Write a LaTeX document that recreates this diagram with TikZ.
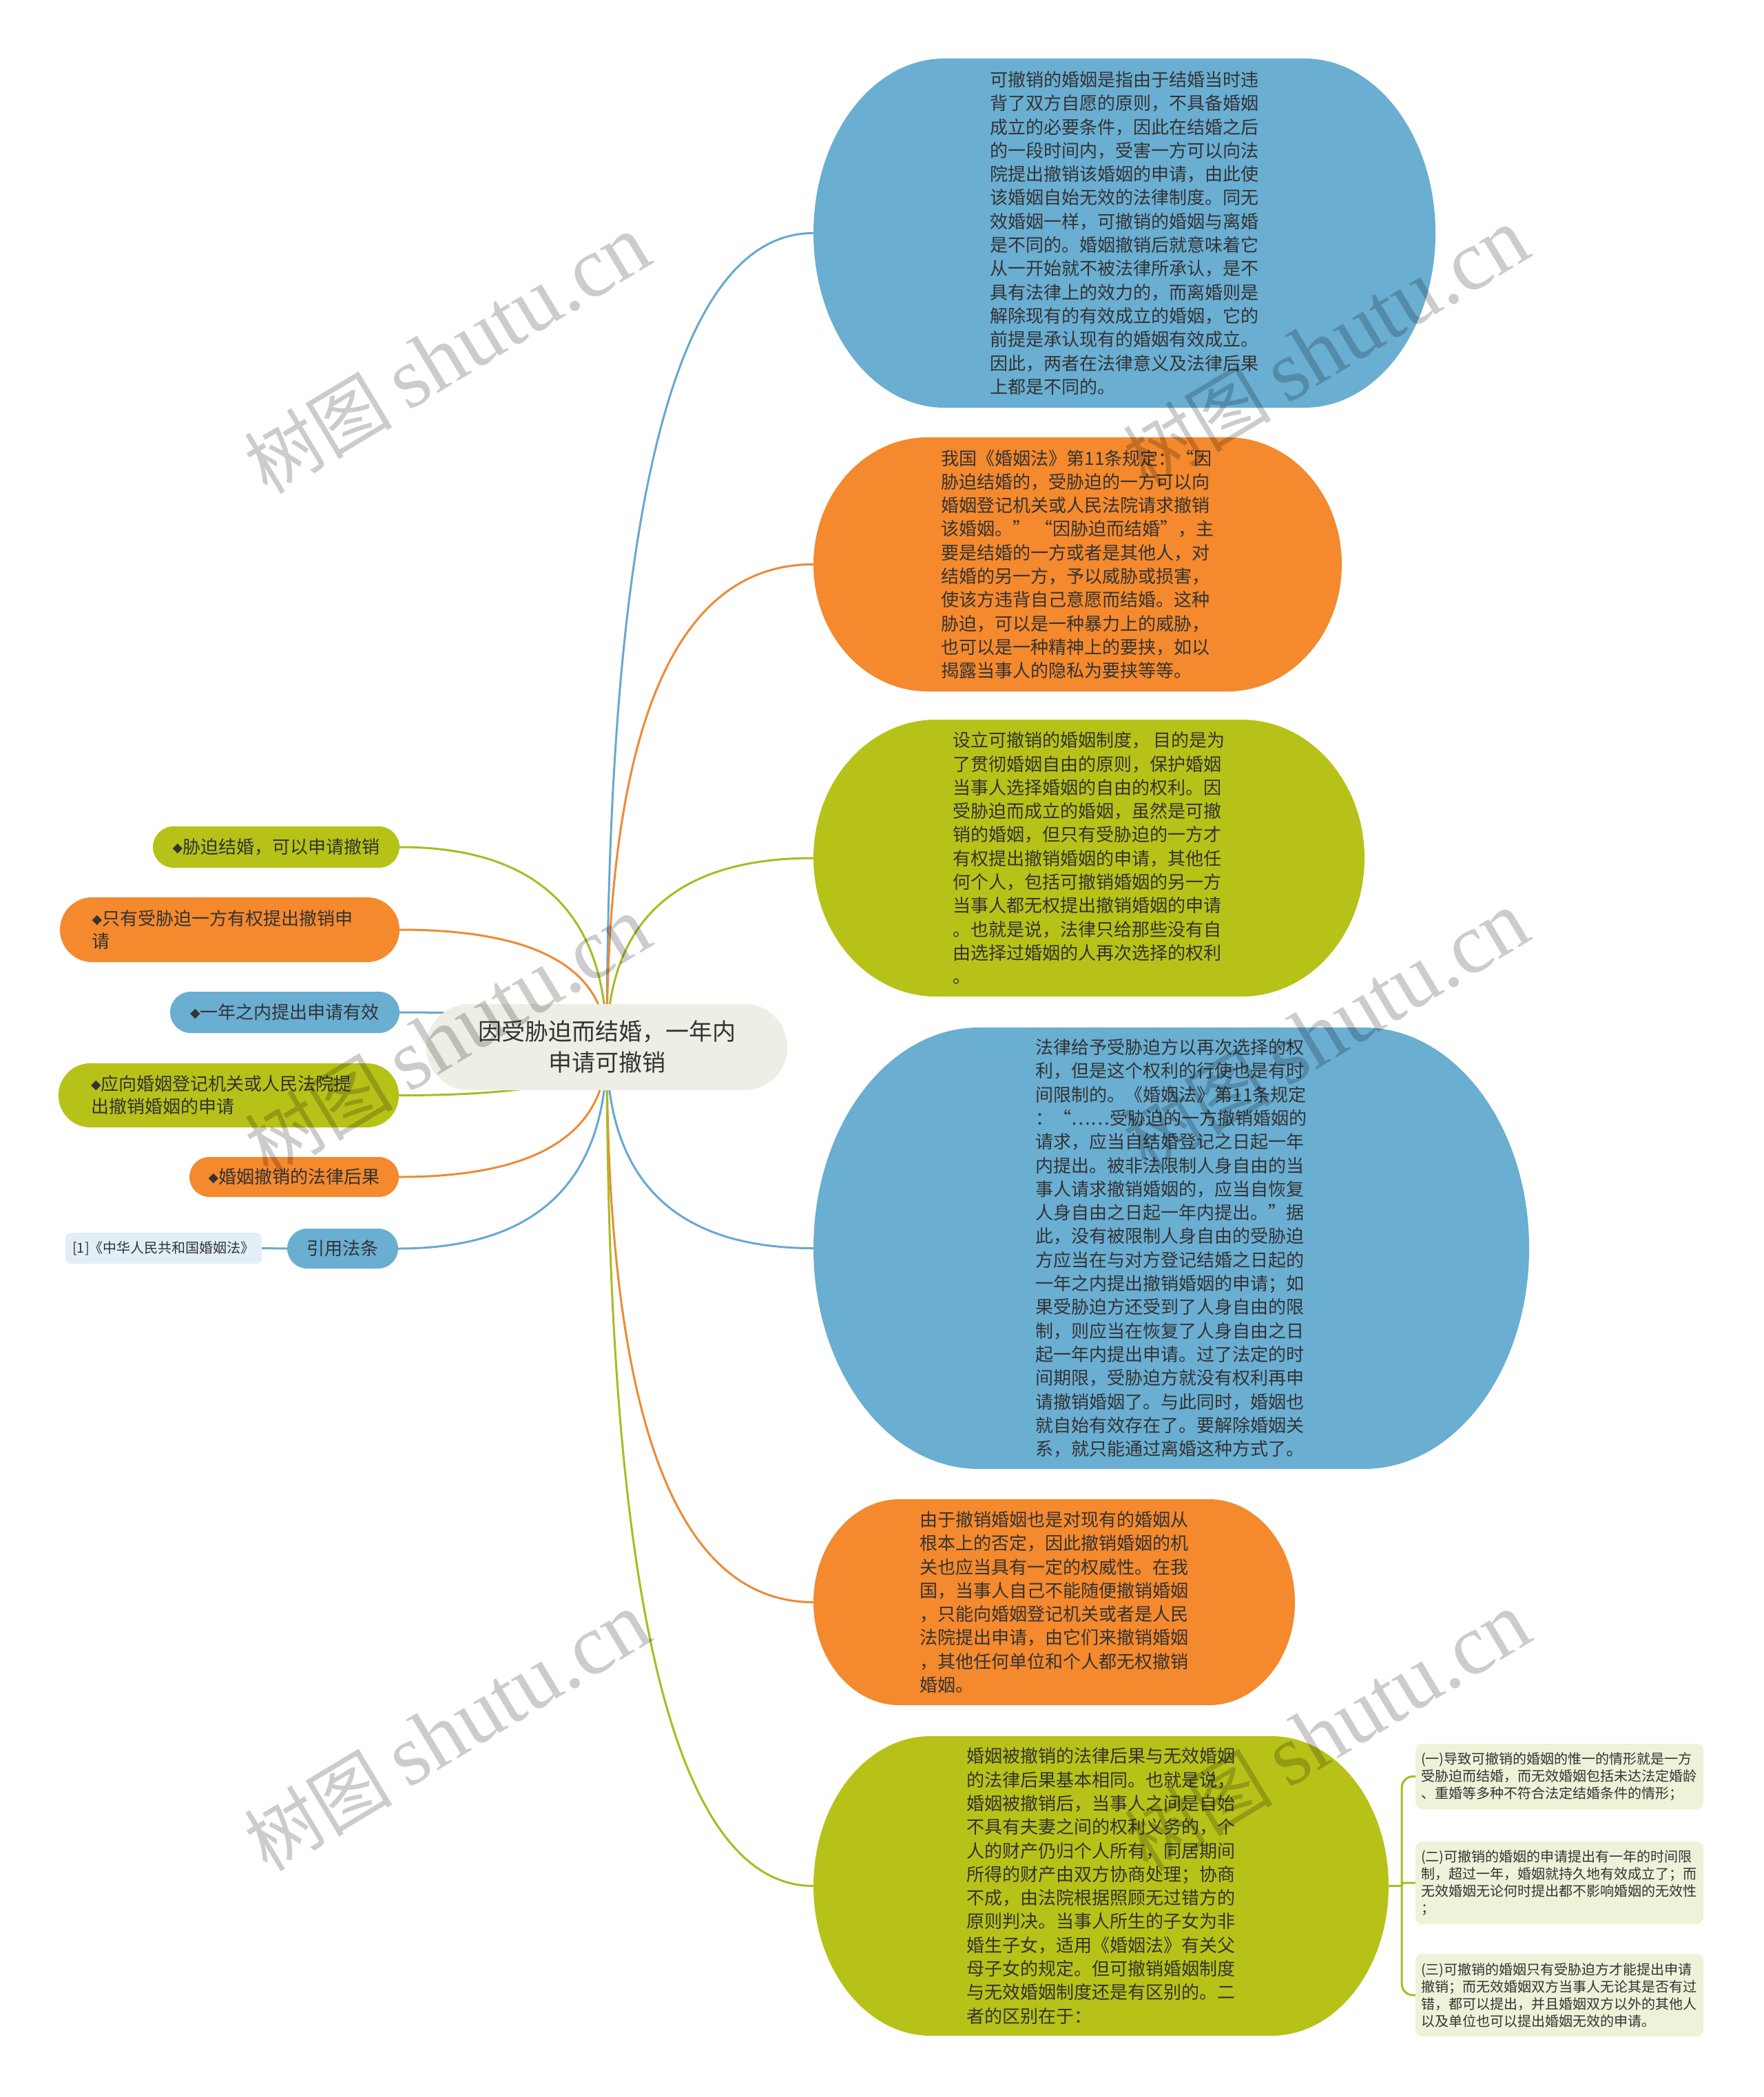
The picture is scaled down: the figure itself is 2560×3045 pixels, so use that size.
\documentclass[tikz,border=0pt]{standalone}
\usepackage{fontspec}
\setmainfont{Noto Sans CJK SC}
\newfontfamily\dejavu{DejaVu Sans}
\newfontfamily\wmlatin{Liberation Serif}
\usetikzlibrary{calc}
\definecolor{blueF}{HTML}{6AAED2}
\definecolor{orangeF}{HTML}{F4892E}
\definecolor{greenF}{HTML}{B7C218}
\definecolor{blueL}{HTML}{67A9CF}
\definecolor{orangeL}{HTML}{EE8A35}
\definecolor{greenL}{HTML}{ABBA22}
\definecolor{rootF}{HTML}{EEEEE5}
\definecolor{leafG}{HTML}{EFF2D8}
\definecolor{leafB}{HTML}{E3EFF7}
\definecolor{txt}{HTML}{333333}
\pgfdeclarelayer{back}\pgfdeclarelayer{links}\pgfdeclarelayer{front}
\pgfsetlayers{back,links,main,front}
\newcommand\dia{{\dejavu\fontsize{19}{19}\selectfont\raisebox{2pt}{◆}}}
\newcommand\wmtext{{\fontsize{108}{108}\selectfont 树图}\hspace{22pt}{\wmlatin\fontsize{125}{125}\selectfont shutu.cn}}
\newcommand\mmlink[2]{\draw[link,#1] (root.center) .. controls ($(root.center)!0.6667!(root.center |- #2)$) and ($(#2)!0.6667!(root.center |- #2)$) .. (#2);}
\tikzset{
  bubble/.style n args={3}{inner sep=0pt, align=left, text=txt, font=\fontsize{26}{34.3}\selectfont,
    path picture={\fill[#1] ([xshift=#2]path picture bounding box.north west) -- ([xshift=-#2]path picture bounding box.north east) arc[start angle=90,end angle=-90,x radius=#2,y radius=#3] -- ([xshift=#2]path picture bounding box.south west) arc[start angle=270,end angle=90,x radius=#2,y radius=#3] -- cycle;}},
  pill/.style={inner sep=0pt, text=txt, font=\fontsize{26}{33}\selectfont, fill=#1},
  leafbox/.style={inner sep=0pt, fill=leafG, rounded corners=10pt, text=txt, font=\fontsize{20}{25}\selectfont, align=left, text width=402pt, minimum width=418pt},
  link/.style={line width=3pt},
  wm/.style={rotate=31, inner sep=0pt, text=black, text opacity=0.2}
}
\begin{document}
\begin{tikzpicture}[x=1pt,y=1pt]
\begin{pgfonlayer}{back}
\fill[white] (0,0) rectangle (2560,-3045);
\end{pgfonlayer}
\useasboundingbox (0,0) rectangle (2560,-3045);

% root
\node[fill=rootF, rounded corners=62pt, minimum width=524pt, minimum height=125pt, inner sep=0pt, align=center, text=txt, font=\fontsize{34}{45}\selectfont] (root) at (881,-1520.5) {因受胁迫而结婚，一年内\\申请可撤销};

% right bubbles
\node[bubble={blueF}{190pt}{253.5pt}, minimum width=903pt, minimum height=507pt] (b1) at (1632.5,-338.5) {可撤销的婚姻是指由于结婚当时违\\背了双方自愿的原则，不具备婚姻\\成立的必要条件，因此在结婚之后\\的一段时间内，受害一方可以向法\\院提出撤销该婚姻的申请，由此使\\该婚姻自始无效的法律制度。同无\\效婚姻一样，可撤销的婚姻与离婚\\是不同的。婚姻撤销后就意味着它\\从一开始就不被法律所承认，是不\\具有法律上的效力的，而离婚则是\\解除现有的有效成立的婚姻，它的\\前提是承认现有的婚姻有效成立。\\因此，两者在法律意义及法律后果\\上都是不同的。};

\node[bubble={orangeF}{166pt}{184.5pt}, minimum width=767pt, minimum height=369pt] (b2) at (1564.5,-819.5) {我国《婚姻法》第11条规定：“因\\胁迫结婚的，受胁迫的一方可以向\\婚姻登记机关或人民法院请求撤销\\该婚姻。” “因胁迫而结婚”，主\\要是结婚的一方或者是其他人，对\\结婚的另一方，予以威胁或损害，\\使该方违背自己意愿而结婚。这种\\胁迫，可以是一种暴力上的威胁，\\也可以是一种精神上的要挟，如以\\揭露当事人的隐私为要挟等等。};

\node[bubble={greenF}{178pt}{201pt}, minimum width=800pt, minimum height=402pt] (b3) at (1581,-1246) {设立可撤销的婚姻制度， 目的是为\\了贯彻婚姻自由的原则，保护婚姻\\当事人选择婚姻的自由的权利。因\\受胁迫而成立的婚姻，虽然是可撤\\销的婚姻，但只有受胁迫的一方才\\有权提出撤销婚姻的申请，其他任\\何个人，包括可撤销婚姻的另一方\\当事人都无权提出撤销婚姻的申请\\。也就是说，法律只给那些没有自\\由选择过婚姻的人再次选择的权利\\。};

\node[bubble={blueF}{240pt}{320.5pt}, minimum width=1039pt, minimum height=641pt] (b4) at (1700.5,-1812.5) {法律给予受胁迫方以再次选择的权\\利，但是这个权利的行使也是有时\\间限制的。《婚姻法》第11条规定\\：“……受胁迫的一方撤销婚姻的\\请求，应当自结婚登记之日起一年\\内提出。被非法限制人身自由的当\\事人请求撤销婚姻的，应当自恢复\\人身自由之日起一年内提出。”据\\此，没有被限制人身自由的受胁迫\\方应当在与对方登记结婚之日起的\\一年之内提出撤销婚姻的申请；如\\果受胁迫方还受到了人身自由的限\\制，则应当在恢复了人身自由之日\\起一年内提出申请。过了法定的时\\间期限，受胁迫方就没有权利再申\\请撤销婚姻了。与此同时，婚姻也\\就自始有效存在了。要解除婚姻关\\系，就只能通过离婚这种方式了。};

\node[bubble={orangeF}{125pt}{149.5pt}, minimum width=699pt, minimum height=299pt] (b5) at (1530.5,-2326.5) {由于撤销婚姻也是对现有的婚姻从\\根本上的否定，因此撤销婚姻的机\\关也应当具有一定的权威性。在我\\国，当事人自己不能随便撤销婚姻\\，只能向婚姻登记机关或者是人民\\法院提出申请，由它们来撤销婚姻\\，其他任何单位和个人都无权撤销\\婚姻。};

\node[bubble={greenF}{170pt}{217.5pt}, minimum width=835pt, minimum height=435pt] (b6) at (1598.5,-2738.5) {婚姻被撤销的法律后果与无效婚姻\\的法律后果基本相同。也就是说，\\婚姻被撤销后，当事人之间是自始\\不具有夫妻之间的权利义务的，个\\人的财产仍归个人所有，同居期间\\所得的财产由双方协商处理；协商\\不成，由法院根据照顾无过错方的\\原则判决。当事人所生的子女为非\\婚生子女，适用《婚姻法》有关父\\母子女的规定。但可撤销婚姻制度\\与无效婚姻制度还是有区别的。二\\者的区别在于：};

% right leaf boxes
\node[leafbox, minimum height=95pt] (rA) at (2264,-2579.5) {(一)导致可撤销的婚姻的惟一的情形就是一方\\受胁迫而结婚，而无效婚姻包括未达法定婚龄\\、重婚等多种不符合法定结婚条件的情形；};
\node[leafbox, minimum height=120pt] (rB) at (2264,-2734) {(二)可撤销的婚姻的申请提出有一年的时间限\\制，超过一年，婚姻就持久地有效成立了；而\\无效婚姻无论何时提出都不影响婚姻的无效性\\；};
\node[leafbox, minimum height=120pt] (rC) at (2264,-2897) {(三)可撤销的婚姻只有受胁迫方才能提出申请\\撤销；而无效婚姻双方当事人无论其是否有过\\错，都可以提出，并且婚姻双方以外的其他人\\以及单位也可以提出婚姻无效的申请。};

% left nodes
\node[pill=greenF, rounded corners=30pt, minimum width=358pt, minimum height=60pt] (l1) at (401,-1230) {\dia 胁迫结婚，可以申请撤销};
\node[pill=orangeF, rounded corners=47pt, minimum width=493pt, minimum height=94pt, align=left, text width=400pt] (l2) at (333.5,-1350) {\dia 只有受胁迫一方有权提出撤销申\\请};
\node[pill=blueF, rounded corners=30pt, minimum width=333pt, minimum height=60pt] (l3) at (413.5,-1470) {\dia 一年之内提出申请有效};
\node[pill=greenF, rounded corners=46pt, minimum width=494pt, minimum height=93pt, align=left, text width=400pt] (l4) at (332,-1590.5) {\dia 应向婚姻登记机关或人民法院提\\出撤销婚姻的申请};
\node[pill=orangeF, rounded corners=29pt, minimum width=304pt, minimum height=58pt] (l5) at (427,-1709) {\dia 婚姻撤销的法律后果};
\node[pill=blueF, rounded corners=29pt, minimum width=161pt, minimum height=58pt] (l6) at (497.5,-1813) {引用法条};
\node[fill=leafB, rounded corners=8pt, minimum width=285pt, minimum height=45pt, inner sep=0pt, text=txt, font=\fontsize{20}{24}\selectfont] (leaf) at (237.5,-1812.5) {[1]《中华人民共和国婚姻法》};

% connectors
\begin{pgfonlayer}{links}
\mmlink{blueL}{b1.west}
\mmlink{orangeL}{b2.west}
\mmlink{greenL}{b3.west}
\mmlink{blueL}{b4.west}
\mmlink{orangeL}{b5.west}
\mmlink{greenL}{b6.west}
\mmlink{greenL}{l1.east}
\mmlink{orangeL}{l2.east}
\mmlink{blueL}{l3.east}
\mmlink{greenL}{l4.east}
\mmlink{orangeL}{l5.east}
\mmlink{blueL}{l6.east}
\draw[link,blueL] (l6.west) -- (leaf.east);
\coordinate (j) at ([xshift=19pt]b6.east);
\draw[link,greenL] (b6.east) -- (j);
\draw[link,greenL,rounded corners=16pt] (j) |- (rA.west);
\draw[link,greenL,rounded corners=3pt] (j) |- (rB.west);
\draw[link,greenL,rounded corners=16pt] (j) |- (rC.west);
\end{pgfonlayer}

% watermarks
\begin{pgfonlayer}{front}
\node[wm] (w1) at (649,-515) {\wmtext};
\node[wm] (w2) at (1925,-505) {\wmtext};
\node[wm] (w3) at (650,-1505) {\wmtext};
\node[wm] (w4) at (1925,-1497) {\wmtext};
\node[wm] (w5) at (649,-2515) {\wmtext};
\node[wm] (w6) at (1927,-2515) {\wmtext};
\end{pgfonlayer}
\end{tikzpicture}
\end{document}
